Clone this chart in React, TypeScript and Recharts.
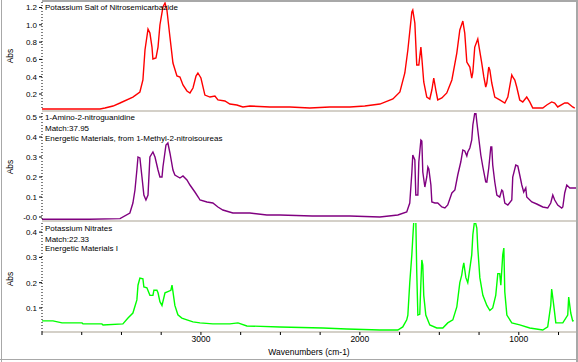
import React from 'react';
import { LineChart, Line, XAxis, YAxis } from 'recharts';

// Wavenumber axis (cm-1), reversed
const wnDomain: [number, number] = [640, 4000];
const xTicks = [4000, 3750, 3500, 3250, 3000, 2750, 2500, 2250, 2000, 1750, 1500, 1250, 1000, 750];
const xTickLabels = [3000, 2000, 1000];

// Panel titles
const titleTop = ['Potassium Salt of Nitrosemicarbazide'];
const titleMid = ['1-Amino-2-nitroguanidine', 'Match:37.95', 'Energetic Materials, from 1-Methyl-2-nitroisoureas'];
const titleBot = ['Potassium Nitrates', 'Match:22.33', 'Energetic Materials I'];

// Y ticks
const ticksTop = [0.2, 0.4, 0.6, 0.8, 1.0, 1.2];
const ticksMid = [0, 0.1, 0.2, 0.3, 0.4, 0.5];
const ticksBot = [0.1, 0.2, 0.3, 0.4];

// Spectra: [wavenumber, absorbance]
const redSpectrum: [number, number][] = [
  [4000, 0.027], [3635, 0.027], [3604, 0.038], [3553, 0.061], [3509, 0.096], [3428, 0.165], [3384, 0.223],
  [3365, 0.362], [3352, 0.709], [3333, 0.951], [3321, 0.905], [3308, 0.743], [3302, 0.605], [3283, 0.616],
  [3270, 0.743], [3258, 0.998], [3239, 1.206], [3226, 1.252], [3214, 1.171], [3195, 0.859], [3176, 0.558],
  [3151, 0.408], [3132, 0.397], [3113, 0.304], [3088, 0.235], [3069, 0.212], [3050, 0.269], [3031, 0.408],
  [3019, 0.443], [3000, 0.385], [2975, 0.188], [2943, 0.165], [2912, 0.177], [2893, 0.131], [2849, 0.119],
  [2818, 0.084], [2774, 0.073], [2736, 0.05], [2692, 0.061], [2566, 0.05], [2440, 0.05], [2315, 0.038],
  [2189, 0.05], [2063, 0.05], [1969, 0.061], [1874, 0.084], [1792, 0.142], [1748, 0.223], [1717, 0.443],
  [1698, 0.709], [1673, 1.148], [1667, 1.171], [1654, 1.021], [1642, 0.535], [1629, 0.535], [1616, 0.743],
  [1610, 0.616], [1598, 0.339], [1579, 0.165], [1560, 0.142], [1547, 0.246], [1535, 0.385], [1522, 0.246],
  [1510, 0.131], [1484, 0.154], [1453, 0.212], [1421, 0.362], [1390, 0.674], [1371, 0.94], [1352, 1.044],
  [1340, 0.905], [1327, 0.57], [1308, 0.512], [1296, 0.385], [1289, 0.454], [1277, 0.743], [1258, 0.836],
  [1252, 0.767], [1233, 0.558], [1220, 0.397], [1208, 0.281], [1201, 0.327], [1189, 0.512], [1182, 0.477],
  [1170, 0.327], [1151, 0.165], [1120, 0.131], [1088, 0.096], [1069, 0.165], [1044, 0.42], [1038, 0.397],
  [1025, 0.362], [1013, 0.281], [994, 0.131], [975, 0.108], [950, 0.165], [931, 0.108], [912, 0.038],
  [849, 0.038], [824, 0.073], [793, 0.108], [774, 0.096], [755, 0.05], [711, 0.096], [692, 0.096],
  [661, 0.05], [648, 0.038],
];

const purpleSpectrum: [number, number][] = [
  [4000, -0.011], [3700, -0.011], [3509, -0.008], [3447, 0.02], [3428, 0.07], [3415, 0.135], [3403, 0.235],
  [3396, 0.3], [3384, 0.295], [3371, 0.2], [3359, 0.11], [3346, 0.085], [3333, 0.11], [3321, 0.3],
  [3302, 0.325], [3289, 0.3], [3270, 0.235], [3258, 0.2], [3245, 0.2], [3239, 0.25], [3220, 0.36],
  [3208, 0.37], [3195, 0.32], [3176, 0.235], [3164, 0.21], [3132, 0.195], [3113, 0.205], [3088, 0.185],
  [3069, 0.16], [3038, 0.125], [3013, 0.095], [3006, 0.085], [2962, 0.075], [2925, 0.07], [2893, 0.05],
  [2862, 0.035], [2799, 0.02], [2692, 0.02], [2585, 0.01], [2503, 0.01], [2300, 0.005], [2063, 0.005],
  [1874, 0.0], [1761, 0.01], [1705, 0.025], [1686, 0.07], [1673, 0.22], [1667, 0.31], [1654, 0.285],
  [1648, 0.11], [1635, 0.11], [1629, 0.275], [1616, 0.385], [1610, 0.38], [1604, 0.225], [1591, 0.15],
  [1579, 0.2], [1572, 0.25], [1566, 0.24], [1553, 0.16], [1547, 0.075], [1528, 0.07], [1510, 0.07],
  [1484, 0.05], [1465, 0.045], [1447, 0.06], [1421, 0.12], [1402, 0.135], [1384, 0.21], [1365, 0.275],
  [1352, 0.335], [1340, 0.33], [1327, 0.305], [1321, 0.325], [1308, 0.345], [1296, 0.385], [1289, 0.46],
  [1277, 0.52], [1270, 0.52], [1264, 0.475], [1252, 0.395], [1239, 0.31], [1226, 0.25], [1208, 0.175],
  [1201, 0.174], [1189, 0.245], [1176, 0.35], [1170, 0.35], [1164, 0.26], [1151, 0.175], [1138, 0.11],
  [1120, 0.1], [1107, 0.135], [1101, 0.13], [1088, 0.07], [1069, 0.06], [1044, 0.085], [1038, 0.2],
  [1019, 0.26], [1006, 0.255], [994, 0.21], [981, 0.16], [969, 0.125], [956, 0.145], [950, 0.1],
  [918, 0.075], [887, 0.065], [849, 0.05], [818, 0.045], [799, 0.07], [786, 0.11], [774, 0.085],
  [755, 0.06], [730, 0.045], [723, 0.05], [711, 0.12], [698, 0.16], [679, 0.145], [640, 0.145],
];

const greenSpectrum: [number, number][] = [
  [4000, 0.049], [3931, 0.049], [3874, 0.041], [3748, 0.041], [3742, 0.037], [3623, 0.037], [3616, 0.033],
  [3491, 0.037], [3459, 0.06], [3428, 0.08], [3403, 0.132], [3396, 0.19], [3384, 0.218], [3365, 0.215],
  [3359, 0.183], [3340, 0.18], [3321, 0.15], [3302, 0.15], [3296, 0.17], [3277, 0.17], [3270, 0.16],
  [3258, 0.125], [3245, 0.11], [3226, 0.16], [3208, 0.165], [3189, 0.17], [3182, 0.19], [3176, 0.165],
  [3164, 0.11], [3145, 0.073], [3120, 0.06], [3088, 0.053], [3050, 0.045], [3006, 0.041], [2925, 0.037],
  [2818, 0.037], [2767, 0.041], [2711, 0.029], [2503, 0.025], [2233, 0.021], [2082, 0.017], [1874, 0.013],
  [1761, 0.013], [1730, 0.025], [1705, 0.053], [1698, 0.072], [1686, 0.2], [1673, 0.31], [1667, 0.377],
  [1660, 0.45], [1648, 0.45], [1642, 0.24], [1635, 0.072], [1623, 0.075], [1616, 0.2], [1610, 0.29],
  [1604, 0.27], [1598, 0.15], [1585, 0.072], [1560, 0.033], [1516, 0.021], [1478, 0.021], [1447, 0.041],
  [1415, 0.053], [1390, 0.104], [1371, 0.2], [1359, 0.23], [1352, 0.26], [1346, 0.278], [1333, 0.22],
  [1321, 0.2], [1314, 0.23], [1296, 0.31], [1289, 0.39], [1277, 0.45], [1264, 0.416], [1258, 0.337],
  [1245, 0.22], [1226, 0.15], [1201, 0.11], [1182, 0.09], [1164, 0.1], [1145, 0.15], [1132, 0.236],
  [1120, 0.236], [1113, 0.19], [1101, 0.31], [1094, 0.337], [1088, 0.163], [1075, 0.072], [1044, 0.041],
  [994, 0.033], [931, 0.021], [849, 0.013], [818, 0.025], [799, 0.11], [793, 0.175], [780, 0.11],
  [767, 0.041], [723, 0.041], [692, 0.072], [686, 0.143], [673, 0.08], [661, 0.049], [654, 0.05],
];

const FONT = '"Liberation Sans", Arial, sans-serif';
const toRows = (s: [number, number][]) => s.map(([wn, abs]) => ({ wn, abs }));

type PanelProps = {
  top: number;
  height: number;
  marginTop: number;
  marginBottom: number;
  spectrum: [number, number][];
  color: string;
  domain: [number, number];
  ticks: number[];
  fmt: (v: number) => string;
  showX: boolean;
};

function Panel(p: PanelProps) {
  return (
    <div style={{ position: 'absolute', left: 0, top: p.top }}>
      <LineChart
        width={578}
        height={p.height}
        data={toRows(p.spectrum)}
        margin={{ top: p.marginTop, right: 2, bottom: p.marginBottom, left: 0 }}
      >
        <XAxis
          type="number"
          dataKey="wn"
          domain={wnDomain}
          reversed
          allowDataOverflow
          hide={!p.showX}
          ticks={xTicks}
          interval={0}
          height={30}
          tickSize={3}
          tickMargin={1}
          tickFormatter={(v: number) => (xTickLabels.includes(v) ? String(v) : '')}
          tick={{ fontSize: 8.5, fill: '#000', fontFamily: FONT }}
          tickLine={{ stroke: '#000' }}
          axisLine={{ stroke: '#d4d0c8', strokeWidth: 2 }}
        />
        <YAxis
          type="number"
          width={42}
          domain={p.domain}
          allowDataOverflow
          ticks={p.ticks}
          interval={0}
          tickSize={3}
          tickMargin={2}
          tickFormatter={p.fmt}
          tick={{ fontSize: 8, fill: '#000', fontFamily: FONT }}
          tickLine={{ stroke: '#000' }}
          axisLine={{ stroke: '#000', strokeDasharray: '1 2' }}
        />
        <Line
          type="linear"
          dataKey="abs"
          stroke={p.color}
          strokeWidth={1.4}
          dot={false}
          activeDot={false}
          isAnimationActive={false}
        />
      </LineChart>
    </div>
  );
}

const textStyle: React.CSSProperties = {
  position: 'absolute',
  fontFamily: FONT,
  fontSize: 8,
  lineHeight: '10px',
  color: '#000',
  whiteSpace: 'nowrap',
};

function Lines({ lines, centers }: { lines: string[]; centers: number[] }) {
  return (
    <>
      {lines.map((t, i) => (
        <div key={i} style={{ ...textStyle, left: 45, top: centers[i] - 5 }}>
          {t}
        </div>
      ))}
    </>
  );
}

function AbsLabel({ cy }: { cy: number }) {
  return (
    <div
      style={{
        ...textStyle,
        fontSize: 8.5,
        left: 10,
        top: cy,
        transform: 'translate(-50%, -50%) rotate(-90deg)',
      }}
    >
      Abs
    </div>
  );
}

const band = (top: number, h: number, left = 42, width = 535, color = '#d4d0c8'): React.CSSProperties => ({
  position: 'absolute',
  left,
  top,
  width,
  height: h,
  background: color,
});

export default function App() {
  return (
    <div
      style={{
        position: 'absolute',
        left: 0,
        top: 0,
        width: 578,
        height: 362,
        background: '#fff',
        overflow: 'hidden',
      }}
    >
      <Panel
        top={0}
        height={112}
        marginTop={2}
        marginBottom={2}
        spectrum={redSpectrum}
        color="#ff0000"
        domain={[0.015, 1.264]}
        ticks={ticksTop}
        fmt={(v) => v.toFixed(1)}
        showX={false}
      />
      <Panel
        top={111}
        height={111}
        marginTop={2}
        marginBottom={2}
        spectrum={purpleSpectrum}
        color="#800080"
        domain={[-0.015, 0.52]}
        ticks={ticksMid}
        fmt={(v) => (v === 0 ? '-0.0' : v.toFixed(1))}
        showX={false}
      />
      <Panel
        top={221}
        height={141}
        marginTop={2}
        marginBottom={0}
        spectrum={greenSpectrum}
        color="#00ff00"
        domain={[0.005, 0.436]}
        ticks={ticksBot}
        fmt={(v) => v.toFixed(1)}
        showX={true}
      />

      {/* frame and separators */}
      <div style={band(0, 2, 42, 536, '#a8a8a8')} />
      <div style={band(110, 2)} />
      <div style={band(220, 2)} />
      <div style={band(0, 362, 576, 2, '#a8a8a8')} />
      <div style={band(0, 362, 1, 1, '#a8a8a8')} />
      <div style={band(359, 1, 0, 578, '#a8a8a8')} />

      <Lines lines={titleTop} centers={[8]} />
      <Lines lines={titleMid} centers={[118, 129, 139]} />
      <Lines lines={titleBot} centers={[229, 239.5, 249]} />

      <AbsLabel cy={56} />
      <AbsLabel cy={167} />
      <AbsLabel cy={279} />

      <div style={{ ...textStyle, fontSize: 8.5, left: 309, top: 352, transform: 'translate(-50%, -50%)' }}>
        Wavenumbers (cm-1)
      </div>
    </div>
  );
}
